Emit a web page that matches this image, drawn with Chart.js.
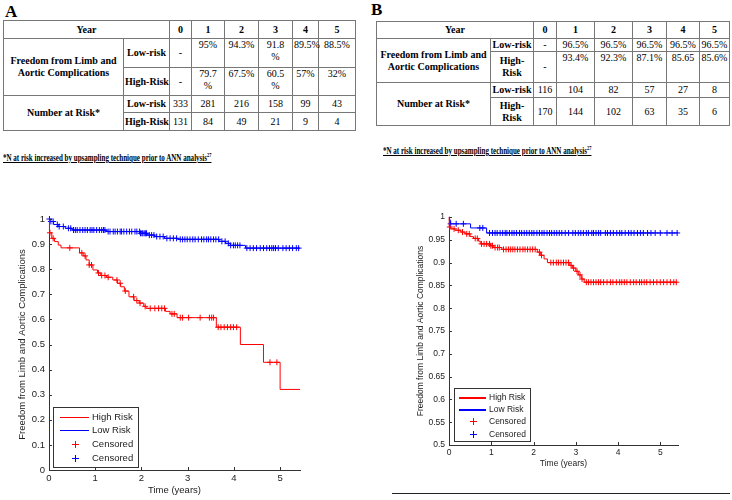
<!DOCTYPE html>
<html>
<head>
<meta charset="utf-8">
<script src="https://cdn.jsdelivr.net/npm/chart.js@4.4.1/dist/chart.umd.min.js"></script>
<style>
body { margin:0; width:732px; height:500px; position:relative; background:#fff; overflow:hidden;
       font-family:"Liberation Serif","Times New Roman",serif; color:#000; }
.panel { position:absolute; font-weight:bold; font-size:17px; line-height:17px; }
table.km { position:absolute; border-collapse:collapse; table-layout:fixed; font-size:10px; line-height:12px;
           font-family:"Liberation Serif","Times New Roman",serif; }
table.km td { border:1px solid #777; padding:0 1px; text-align:center; vertical-align:middle; overflow:visible; white-space:nowrap; }
table.km td.b { font-weight:bold; }
table.km td.t { vertical-align:top; }
.note { position:absolute; font-weight:bold; font-size:9.5px; line-height:11px; text-decoration:underline;
        white-space:nowrap; transform:scaleX(0.74); transform-origin:0 0; }
.note sup { font-size:6px; line-height:0; }
canvas { position:absolute; }
.rule { position:absolute; left:392px; top:493px; width:338px; height:1px; background:#222; }
</style>
</head>
<body>
<div class="panel" style="left:5px;top:3px">A</div>
<div class="panel" style="left:371px;top:1px">B</div>

<table class="km" style="left:3px;top:20px;width:352px">
  <colgroup><col style="width:120px"><col style="width:46px"><col style="width:22px"><col style="width:33px"><col style="width:34px"><col style="width:34px"><col style="width:26px"><col style="width:37px"></colgroup>
  <tr style="height:18px"><td class="b" colspan="2">Year</td><td class="b">0</td><td class="b">1</td><td class="b">2</td><td class="b">3</td><td class="b">4</td><td class="b">5</td></tr>
  <tr style="height:29px"><td class="b" rowspan="2">Freedom from Limb and<br>Aortic Complications</td><td class="b">Low-risk</td><td>-</td><td class="t">95%</td><td class="t">94.3%</td><td class="t">91.8<br>%</td><td class="t">89.5%</td><td class="t">88.5%</td></tr>
  <tr style="height:28px"><td class="b">High-Risk</td><td>-</td><td class="t">79.7<br>%</td><td class="t">67.5%</td><td class="t">60.5<br>%</td><td class="t">57%</td><td class="t">32%</td></tr>
  <tr style="height:17px"><td class="b" rowspan="2">Number at Risk*</td><td class="b">Low-risk</td><td>333</td><td>281</td><td>216</td><td>158</td><td>99</td><td>43</td></tr>
  <tr style="height:18px"><td class="b">High-Risk</td><td>131</td><td>84</td><td>49</td><td>21</td><td>9</td><td>4</td></tr>
</table>

<table class="km" style="left:376px;top:21px;width:353px">
  <colgroup><col style="width:114px"><col style="width:43px"><col style="width:23px"><col style="width:38px"><col style="width:38px"><col style="width:34px"><col style="width:33px"><col style="width:30px"></colgroup>
  <tr style="height:17px"><td class="b" colspan="2">Year</td><td class="b">0</td><td class="b">1</td><td class="b">2</td><td class="b">3</td><td class="b">4</td><td class="b">5</td></tr>
  <tr style="height:13px"><td class="b" rowspan="2">Freedom from Limb and<br>Aortic Complications</td><td class="b">Low-risk</td><td>-</td><td>96.5%</td><td>96.5%</td><td>96.5%</td><td>96.5%</td><td>96.5%</td></tr>
  <tr style="height:31px"><td class="b">High-<br>Risk</td><td>-</td><td class="t">93.4%</td><td class="t">92.3%</td><td class="t">87.1%</td><td class="t">85.65</td><td class="t">85.6%</td></tr>
  <tr style="height:15px"><td class="b" rowspan="2">Number at Risk*</td><td class="b">Low-risk</td><td>116</td><td>104</td><td>82</td><td>57</td><td>27</td><td>8</td></tr>
  <tr style="height:28px"><td class="b">High-<br>Risk</td><td>170</td><td>144</td><td>102</td><td>63</td><td>35</td><td>6</td></tr>
</table>

<div class="note" style="left:3px;top:153px">*N at risk increased by upsampling technique prior to ANN analysis<sup>27</sup></div>
<div class="note" style="left:383px;top:146px">*N at risk increased by upsampling technique prior to ANN analysis<sup>27</sup></div>

<canvas id="chartA" width="320" height="300" style="left:0;top:200px"></canvas>
<canvas id="chartB" width="300" height="275" style="left:400px;top:200px"></canvas>
<div class="rule"></div>

<script>
// tick labels
const xTicks = [0, 1, 2, 3, 4, 5];
const yTicksA = [0, 0.1, 0.2, 0.3, 0.4, 0.5, 0.6, 0.7, 0.8, 0.9, 1];
const yTicksB = [0.5, 0.55, 0.6, 0.65, 0.7, 0.75, 0.8, 0.85, 0.9, 0.95, 1];

// panel A - Kaplan-Meier steps (time in years, survival after the step)
const tA_high = [0, 0.01, 0.06, 0.12, 0.2, 0.26, 0.66, 0.74, 0.8, 0.87, 0.95, 1.05, 1.12, 1.24, 1.38, 1.48,
                 1.55, 1.63, 1.73, 1.84, 1.95, 2.05, 2.1, 2.52, 2.62, 2.77, 3.62, 4.14, 4.64, 5.0, 5.43];
const sA_high = [1, 0.945, 0.923, 0.91, 0.896, 0.885, 0.865, 0.853, 0.837, 0.817, 0.797, 0.785, 0.775, 0.768, 0.757, 0.744,
                 0.73, 0.713, 0.69, 0.675, 0.665, 0.652, 0.644, 0.632, 0.622, 0.607, 0.569, 0.5, 0.429, 0.321, 0.321];
const cA_high = [0.02, 0.09, 0.45, 0.71, 0.78, 0.87, 0.92, 1.07, 1.14, 1.21, 1.28, 1.47, 1.54, 1.65, 1.83, 1.9, 1.97,
                 2.08, 2.19, 2.29, 2.37, 2.44, 2.5, 2.66, 2.71, 2.84, 2.89, 3.02, 3.27, 3.47, 3.52, 3.56, 3.66, 3.72,
                 3.79, 3.86, 3.93, 3.99, 4.06, 4.78, 4.93];

const tA_low = [0, 0.02, 0.1, 0.2, 0.35, 0.5, 1.25, 1.97, 2.12, 2.28, 2.5, 2.8, 3.68, 3.82, 3.92, 4.25, 5.43];
const sA_low = [1, 0.99, 0.978, 0.97, 0.963, 0.956, 0.95, 0.943, 0.936, 0.93, 0.923, 0.919, 0.911, 0.903, 0.895, 0.884, 0.884];
const cA_low = [0.01, 0.04, 0.09, 0.18, 0.22, 0.31, 0.42, 0.47, 0.53, 0.57, 0.61, 0.67, 0.73, 0.78, 0.83, 0.89, 0.93,
                0.97, 1.03, 1.09, 1.14, 1.18, 1.21, 1.28, 1.32, 1.39, 1.43, 1.48, 1.54, 1.57, 1.62, 1.68, 1.74, 1.79,
                1.86, 1.9, 1.96, 1.98, 2.01, 2.03, 2.06, 2.09, 2.11, 2.17, 2.22, 2.27, 2.33, 2.4, 2.47, 2.55, 2.62,
                2.69, 2.76, 2.84, 2.89, 2.94, 2.99, 3.05, 3.11, 3.16, 3.23, 3.3, 3.35, 3.41, 3.45, 3.5, 3.56, 3.61,
                3.67, 3.74, 3.81, 3.88, 3.93, 3.99, 4.03, 4.08, 4.13, 4.28, 4.35, 4.42, 4.49, 4.57, 4.64, 4.71, 4.77,
                4.82, 4.86, 4.9, 4.96, 5.06, 5.13, 5.2, 5.27, 5.35, 5.4];

// panel B
const tB_high = [0, 0.005, 0.04, 0.14, 0.28, 0.38, 0.5, 0.58, 0.7, 0.74, 0.98, 1.06, 1.25, 2.09, 2.17, 2.25, 2.33,
                 2.86, 2.92, 3.0, 3.06, 3.13, 3.2, 5.4];
const sB_high = [1, 0.978, 0.974, 0.971, 0.967, 0.963, 0.957, 0.953, 0.947, 0.941, 0.937, 0.933, 0.929, 0.923, 0.916,
                 0.908, 0.9, 0.894, 0.888, 0.881, 0.873, 0.864, 0.857, 0.857];
const cB_high = [0.02, 0.12, 0.22, 0.32, 0.42, 0.48, 0.62, 0.67, 0.77, 0.83, 0.89, 0.96, 0.99, 1.03, 1.09, 1.15, 1.19,
                 1.29, 1.35, 1.41, 1.46, 1.51, 1.56, 1.62, 1.68, 1.75, 1.8, 1.86, 1.92, 1.98, 2.04, 2.14, 2.19, 2.41,
                 2.47, 2.54, 2.59, 2.65, 2.71, 2.77, 2.83, 2.89, 2.95, 3.03, 3.1, 3.15, 3.25, 3.3, 3.36, 3.42, 3.48,
                 3.54, 3.59, 3.66, 3.74, 3.82, 3.88, 3.96, 4.04, 4.09, 4.15, 4.21, 4.29, 4.37, 4.43, 4.51, 4.56, 4.62,
                 4.68, 4.76, 4.84, 4.92, 5.0, 5.08, 5.16, 5.24, 5.32, 5.38];

const tB_low = [0, 0.01, 0.03, 0.51, 0.89, 5.42];
const sB_low = [1, 0.994, 0.985, 0.976, 0.965, 0.965];
const cB_low = [0.04, 0.17, 0.34, 0.73, 0.8, 0.96, 1.03, 1.09, 1.14, 1.21, 1.27, 1.33, 1.37, 1.43, 1.49, 1.54, 1.6,
                1.67, 1.72, 1.78, 1.84, 1.9, 1.96, 2.01, 2.08, 2.14, 2.2, 2.25, 2.32, 2.38, 2.43, 2.49, 2.55, 2.61,
                2.67, 2.75, 2.83, 2.93, 2.99, 3.06, 3.12, 3.18, 3.25, 3.3, 3.38, 3.42, 3.48, 3.54, 3.59, 3.7, 3.75,
                3.82, 3.89, 3.97, 4.04, 4.09, 4.17, 4.25, 4.31, 4.38, 4.46, 4.53, 4.6, 4.7, 4.78, 4.88, 5.0, 5.16,
                5.28, 5.4];

const RED = '#ff0000';
const BLUE = '#0000ff';
const SANS = '"Liberation Sans", Arial, sans-serif';

function steps(times, surv) {
    return times.map((t, i) => ({ x: t, y: surv[i] }));
}

// censored marks sit on the curve level in force at that time
function marks(cens, times, surv) {
    return cens.map(c => {
        let lvl = surv[0];
        for (let i = 0; i < times.length; i++) if (times[i] <= c) lvl = surv[i];
        return { x: c, y: lvl };
    });
}

// MATLAB style inward tick marks
const inTicks = {
    id: 'inTicks',
    afterDatasetsDraw(chart) {
        const { ctx, chartArea: a, scales: { x, y } } = chart;
        ctx.save();
        ctx.strokeStyle = '#333';
        ctx.lineWidth = 1;
        ctx.beginPath();
        x.ticks.forEach(t => {
            const px = Math.round(x.getPixelForValue(t.value)) + 0.5;
            ctx.moveTo(px, a.bottom); ctx.lineTo(px, a.bottom - 3);
        });
        y.ticks.forEach(t => {
            const py = Math.round(y.getPixelForValue(t.value)) + 0.5;
            ctx.moveTo(a.left, py); ctx.lineTo(a.left + 3, py);
        });
        ctx.stroke();
        ctx.restore();
    }
};

// legend box inside the lower left corner of the axes
const kmLegend = {
    id: 'kmLegend',
    afterDraw(chart, args, o) {
        const { ctx, chartArea: a } = chart;
        const bx = Math.round(a.left + o.left), by = Math.round(a.bottom - o.bottom - o.h);
        const colors = [RED, BLUE, RED, BLUE];
        ctx.save();
        ctx.fillStyle = '#fff';
        ctx.fillRect(bx, by, o.w, o.h);
        ctx.strokeStyle = '#333';
        ctx.lineWidth = 1;
        ctx.strokeRect(bx + 0.5, by + 0.5, o.w, o.h);
        ctx.font = o.size + 'px ' + SANS;
        ctx.textBaseline = 'middle';
        chart.data.datasets.forEach((d, i) => {
            const y = Math.round(by + o.first + i * o.gap);
            ctx.fillStyle = colors[i];
            if (d.showLine === false) {
                const mx = Math.round(bx + o.mark);
                ctx.fillRect(mx - 3, y, 7, 1);
                ctx.fillRect(mx, y - 3, 1, 7);
            } else {
                ctx.fillRect(bx + o.l1, y, o.l2 - o.l1, o.lw);
            }
            ctx.fillStyle = '#222';
            ctx.fillText(d.label, bx + o.text, y + 0.5);
        });
        ctx.restore();
    }
};

function makeChart(id, cfg) {
    const fs = cfg.fontSize;
    return new Chart(document.getElementById(id), {
        type: 'line',
        data: {
            datasets: [
                { label: 'High Risk', data: steps(cfg.tHigh, cfg.sHigh), borderColor: RED, borderWidth: 1,
                  stepped: true, pointRadius: 0, clip: false },
                { label: 'Low Risk', data: steps(cfg.tLow, cfg.sLow), borderColor: BLUE, borderWidth: 1,
                  stepped: true, pointRadius: 0, clip: false },
                { label: 'Censored', data: marks(cfg.cHigh, cfg.tHigh, cfg.sHigh), borderColor: RED, showLine: false,
                  pointStyle: 'cross', pointRadius: 3, borderWidth: 1, clip: false },
                { label: 'Censored', data: marks(cfg.cLow, cfg.tLow, cfg.sLow), borderColor: BLUE, showLine: false,
                  pointStyle: 'cross', pointRadius: 3, borderWidth: 1, clip: false }
            ]
        },
        options: {
            responsive: false,
            animation: false,
            layout: { padding: cfg.padding },
            plugins: { legend: { display: false }, tooltip: { enabled: false }, kmLegend: cfg.legend },
            scales: {
                x: {
                    type: 'linear', min: 0, max: cfg.xMax,
                    afterBuildTicks: s => { s.ticks = xTicks.map(v => ({ value: v })); },
                    afterFit: s => { s.height = cfg.xHeight; },
                    grid: { display: false, drawTicks: false },
                    border: { color: '#333' },
                    ticks: { padding: 3, color: '#222', autoSkip: false, maxRotation: 0,
                             font: { family: SANS, size: fs }, callback: v => String(v) },
                    title: { display: true, text: 'Time (years)', color: '#222', padding: { top: 0, bottom: cfg.xTitlePad },
                             font: { family: SANS, size: fs } }
                },
                y: {
                    type: 'linear', min: cfg.yTicks[0], max: 1,
                    afterBuildTicks: s => { s.ticks = cfg.yTicks.map(v => ({ value: v })); },
                    afterFit: s => { s.width = 49; },
                    grid: { display: false, drawTicks: false },
                    border: { color: '#333' },
                    ticks: { padding: 4, color: '#222', autoSkip: false,
                             font: { family: SANS, size: fs }, callback: v => String(v) },
                    title: { display: true, text: 'Freedom from Limb and Aortic Complications', color: '#222',
                             padding: { top: cfg.yTitlePad, bottom: 0 }, font: { family: SANS, size: fs } }
                }
            }
        },
        plugins: [inTicks, kmLegend]
    });
}

makeChart('chartA', {
    tHigh: tA_high, sHigh: sA_high, cHigh: cA_high,
    tLow: tA_low, sLow: sA_low, cLow: cA_low,
    yTicks: yTicksA, xMax: 5.43, fontSize: 9.5,
    padding: { top: 19, right: 20, left: 0, bottom: 0 },
    xHeight: 30, xTitlePad: 4, yTitlePad: 17,
    legend: { left: 4, bottom: 3, w: 85, h: 60, first: 9.7, gap: 13.6, l1: 7, l2: 36, lw: 1, mark: 22, text: 39, size: 9.5 }
});

makeChart('chartB', {
    tHigh: tB_high, sHigh: sB_high, cHigh: cB_high,
    tLow: tB_low, sLow: sB_low, cLow: cB_low,
    yTicks: yTicksB, xMax: 5.42, fontSize: 8.5,
    padding: { top: 17, right: 22, left: 0, bottom: 0 },
    xHeight: 30, xTitlePad: 6, yTitlePad: 16,
    legend: { left: 5, bottom: 4, w: 76, h: 53, first: 8.7, gap: 12.3, l1: 5, l2: 32, lw: 2, mark: 19, text: 35, size: 8.5 }
});
</script>
</body>
</html>
